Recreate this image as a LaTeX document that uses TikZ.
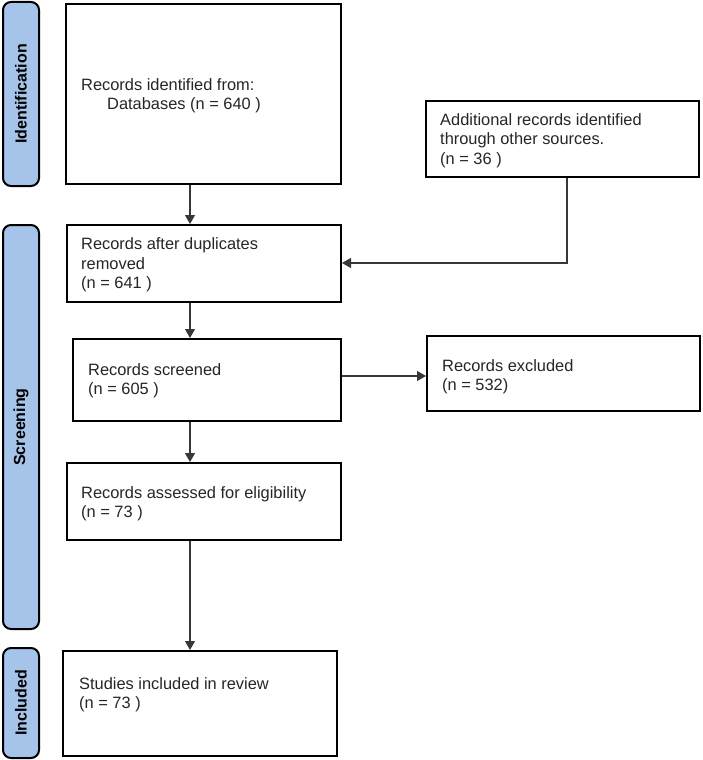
\documentclass[tikz,border=0pt]{standalone}
\usepackage{fontspec}
\setmainfont{Liberation Sans}
\usetikzlibrary{arrows.meta}
\definecolor{barblue}{RGB}{166,196,234}
\definecolor{linegray}{RGB}{55,55,55}
\begin{document}
\begin{tikzpicture}[x=1pt,y=-1pt,
  stagebar/.style={draw=black,line width=2pt,fill=barblue,rounded corners=8pt,inner sep=0pt,minimum width=36pt},
  stagelabel/.style={font=\fontsize{16}{19}\selectfont\bfseries,rotate=90,inner sep=0pt},
  box/.style={draw=black,line width=2pt,fill=white,inner sep=0pt},
  boxtext/.style={font=\fontsize{16.4}{19.3}\selectfont,align=left,anchor=west,inner sep=0pt,text=black!85},
  arr/.style={draw=linegray,line width=1.3pt,-{Triangle[length=9pt,width=10pt]}},
  ln/.style={draw=linegray,line width=1.3pt}]
\useasboundingbox (0,0) rectangle (702,760);

% stage bars
\node[stagebar,minimum height=184pt] (sId) at (21,94) {};
\node[stagebar,minimum height=404pt] (sSc) at (21,427) {};
\node[stagebar,minimum height=110pt] (sIn) at (21,703) {};
\node[stagelabel] (lId) at (sId.center) {Identification};
\node[stagelabel] (lSc) at (sSc.center) {Screening};
\node[stagelabel] (lIn) at (sIn.center) {Included};

% boxes
\node[box,minimum width=275pt,minimum height=180pt] (b1) at (203.5,94) {};
\node[box,minimum width=274pt,minimum height=77pt] (b2) at (204,263.5) {};
\node[box,minimum width=268pt,minimum height=82pt] (b3) at (207,380) {};
\node[box,minimum width=274pt,minimum height=77pt] (b4) at (204,501.5) {};
\node[box,minimum width=274pt,minimum height=105pt] (b5) at (200,703.5) {};
\node[box,minimum width=273pt,minimum height=76pt] (bA) at (562.5,139) {};
\node[box,minimum width=273pt,minimum height=75pt] (bE) at (563.5,373.5) {};

% texts
\node[boxtext] (t1) at (81,96) {Records identified from:\\\hspace*{26pt}Databases (n = 640 )};
\node[boxtext] (t2) at (81,265) {Records after duplicates\\removed\\(n = 641 )};
\node[boxtext] (t3) at (88,380.5) {Records screened\\(n = 605 )};
\node[boxtext] (t4) at (81,503.5) {Records assessed for eligibility\\(n = 73 )};
\node[boxtext] (t5) at (79,695) {Studies included in review\\(n = 73 )};
\node[boxtext] (tA) at (440,140.5) {Additional records identified\\through other sources.\\(n = 36 )};
\node[boxtext] (tE) at (442,376.5) {Records excluded\\(n = 532)};

% connectors
\coordinate (ax) at (190,0);
\draw[arr] (b1.south -| ax) -- (b2.north -| ax);
\draw[arr] (b2.south -| ax) -- (b3.north -| ax);
\draw[arr] (b3.south -| ax) -- (b4.north -| ax);
\draw[arr] (b4.south -| ax) -- (b5.north -| ax);
\coordinate (j) at (567,263);
\draw[arr] (bA.south -| j) -- (j) -- (b2.east |- j);
\coordinate (ey) at (0,376);
\draw[arr] (b3.east |- ey) -- (bE.west |- ey);
\end{tikzpicture}
\end{document}
